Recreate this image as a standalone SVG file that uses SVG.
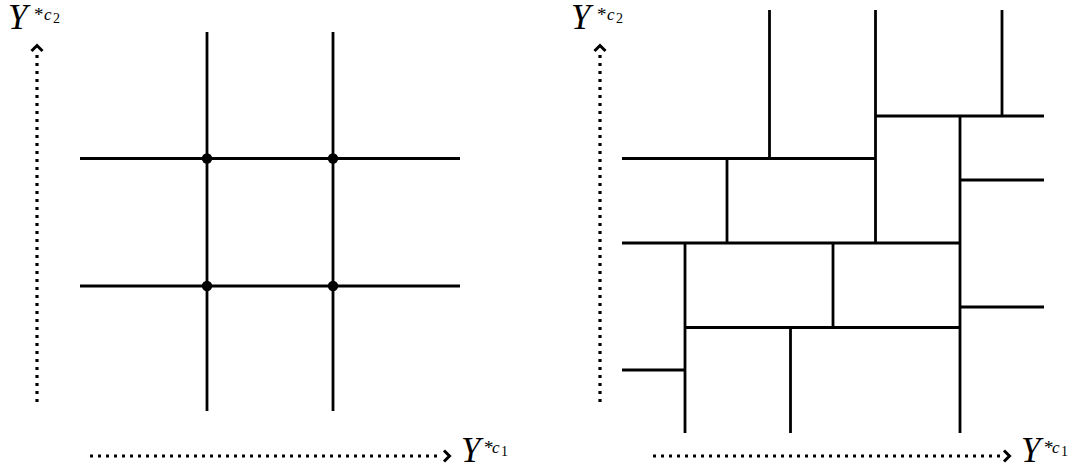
<svg xmlns="http://www.w3.org/2000/svg" width="1083" height="469" viewBox="0 0 1083 469">
<style>
.ln{stroke:#000;stroke-width:2.8;fill:none;stroke-linecap:butt}
.dot{stroke:#000;stroke-width:3.2;fill:none;stroke-dasharray:3 5}
.hd{stroke:#000;stroke-width:3;fill:none;stroke-linejoin:miter}
.big{font-family:"Liberation Serif",serif;font-style:italic;font-size:35px}
.sup{font-family:"Liberation Serif",serif;font-size:19px}
.supi{font-family:"Liberation Serif",serif;font-style:italic;font-size:17px}
.sub{font-family:"Liberation Serif",serif;font-size:14px}
</style>
<rect width="1083" height="469" fill="#fff"/>
<g id="axes-left">
<line class="dot" x1="37" y1="402" x2="37" y2="54"/>
<polyline class="hd" points="31.5,51 37,45.5 42.5,51"/>
<line class="dot" x1="90" y1="456" x2="441" y2="456"/>
<polyline class="hd" points="444,450.5 449.5,456 444,461.5"/>
<text x="8" y="29" class="big">Y</text>
<text x="34" y="21" class="sup">*</text>
<text x="44" y="20" class="supi">c</text>
<text x="53" y="23" class="sub">2</text>
<text x="461" y="462" class="big">Y</text>
<text x="484" y="454" class="sup">*</text>
<text x="492" y="453" class="supi">c</text>
<text x="501" y="456" class="sub">1</text>
</g>
<g id="axes-right">
<line class="dot" x1="600" y1="402" x2="600" y2="54"/>
<polyline class="hd" points="594.5,51 600,45.5 605.5,51"/>
<line class="dot" x1="653" y1="456" x2="1001" y2="456"/>
<polyline class="hd" points="1004,450.5 1009.5,456 1004,461.5"/>
<text x="571" y="29" class="big">Y</text>
<text x="597" y="21" class="sup">*</text>
<text x="607" y="20" class="supi">c</text>
<text x="616" y="23" class="sub">2</text>
<text x="1021" y="462" class="big">Y</text>
<text x="1044" y="454" class="sup">*</text>
<text x="1052" y="453" class="supi">c</text>
<text x="1061" y="456" class="sub">1</text>
</g>
<g id="grid-left">
<line class="ln" x1="207" y1="32" x2="207" y2="411"/>
<line class="ln" x1="333" y1="32" x2="333" y2="411"/>
<line class="ln" x1="80" y1="158.5" x2="460" y2="158.5"/>
<line class="ln" x1="80" y1="286" x2="460" y2="286"/>
<circle cx="207" cy="158.5" r="5.2"/>
<circle cx="333" cy="158.5" r="5.2"/>
<circle cx="207" cy="286" r="5.2"/>
<circle cx="333" cy="286" r="5.2"/>
</g>
<g id="partition-right">
<line class="ln" x1="622" y1="158.5" x2="875.5" y2="158.5"/>
<line class="ln" x1="769.5" y1="10" x2="769.5" y2="158.5"/>
<line class="ln" x1="875.5" y1="10" x2="875.5" y2="243"/>
<line class="ln" x1="875.5" y1="116" x2="1044" y2="116"/>
<line class="ln" x1="1002" y1="10" x2="1002" y2="116"/>
<line class="ln" x1="960" y1="116" x2="960" y2="433"/>
<line class="ln" x1="960" y1="180" x2="1044" y2="180"/>
<line class="ln" x1="727" y1="158.5" x2="727" y2="243"/>
<line class="ln" x1="622" y1="243" x2="960" y2="243"/>
<line class="ln" x1="685" y1="243" x2="685" y2="433"/>
<line class="ln" x1="833" y1="243" x2="833" y2="327.5"/>
<line class="ln" x1="685" y1="327.5" x2="960" y2="327.5"/>
<line class="ln" x1="790.5" y1="327.5" x2="790.5" y2="433"/>
<line class="ln" x1="960" y1="307" x2="1044" y2="307"/>
<line class="ln" x1="622" y1="370" x2="685" y2="370"/>
</g>
</svg>
